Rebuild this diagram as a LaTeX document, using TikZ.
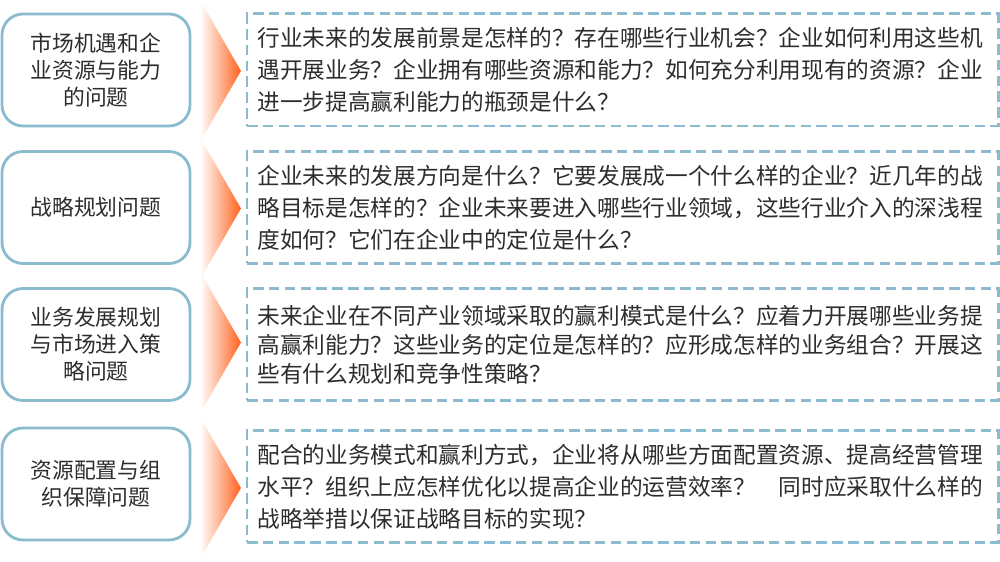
\documentclass[tikz,border=0pt]{standalone}
\usepackage{fontspec}
\newfontfamily\cjk{Noto Sans CJK SC}
\usetikzlibrary{positioning, calc}
\definecolor{boxblue}{RGB}{139,187,207}
\definecolor{tiporange}{RGB}{255,98,30}
\definecolor{textgray}{RGB}{45,45,45}

\begin{document}
\begin{tikzpicture}
        \tikzstyle{topic} = [rectangle, rounded corners=0.42cm, draw=boxblue, line width=1.6pt, minimum width=3.76cm, minimum height=2.24cm, align=center, text=textgray, font=\cjk\fontsize{12.4}{15.3}\selectfont]
        \tikzstyle{detail} = [rectangle, draw=boxblue, line width=1.7pt, dash pattern=on 6pt off 3pt, minimum width=15.02cm, minimum height=2.24cm, text width=14.6cm, align=left, text=textgray, font=\cjk\fontsize{12.9}{18.2}\selectfont]

        \useasboundingbox (0,0) rectangle (20,-11.24);

        % chevrons between the two columns
        \foreach \y in {-1.42,-4.17,-6.85,-9.76}{
            \shade[left color=white, middle color=tiporange!22, right color=tiporange] (4.0,\y+1.42) -- (4.82,\y) -- (4.0,\y-1.42) -- cycle;
        }

        \node[topic] (q1) at (1.92,-1.40) {市场机遇和企\\业资源与能力\\的问题};
        \node[topic] (q2) at (1.92,-4.15) {战略规划问题};
        \node[topic] (q3) at (1.92,-6.89) {业务发展规划\\与市场进入策\\略问题};
        \node[topic] (q4) at (1.92,-9.68) {资源配置与组\\织保障问题};

        \node[detail] (a1) at (12.45,-1.40) {行业未来的发展前景是怎样的？存在哪些行业机会？企业如何利用这些机\\遇开展业务？企业拥有哪些资源和能力？如何充分利用现有的资源？企业\\进一步提高赢利能力的瓶颈是什么？};
        \node[detail] (a2) at (12.45,-4.15) {企业未来的发展方向是什么？它要发展成一个什么样的企业？近几年的战\\略目标是怎样的？企业未来要进入哪些行业领域，这些行业介入的深浅程\\度如何？它们在企业中的定位是什么？};
        \node[detail, font=\cjk\fontsize{12.9}{16.6}\selectfont] (a3) at (12.45,-6.89) {未来企业在不同产业领域采取的赢利模式是什么？应着力开展哪些业务提\\高赢利能力？这些业务的定位是怎样的？应形成怎样的业务组合？开展这\\些有什么规划和竞争性策略？};
        \node[detail] (a4) at (12.45,-9.73) {配合的业务模式和赢利方式，企业将从哪些方面配置资源、提高经营管理\\水平？组织上应怎样优化以提高企业的运营效率？　同时应采取什么样的\\战略举措以保证战略目标的实现？};
    \end{tikzpicture}
\end{document}
